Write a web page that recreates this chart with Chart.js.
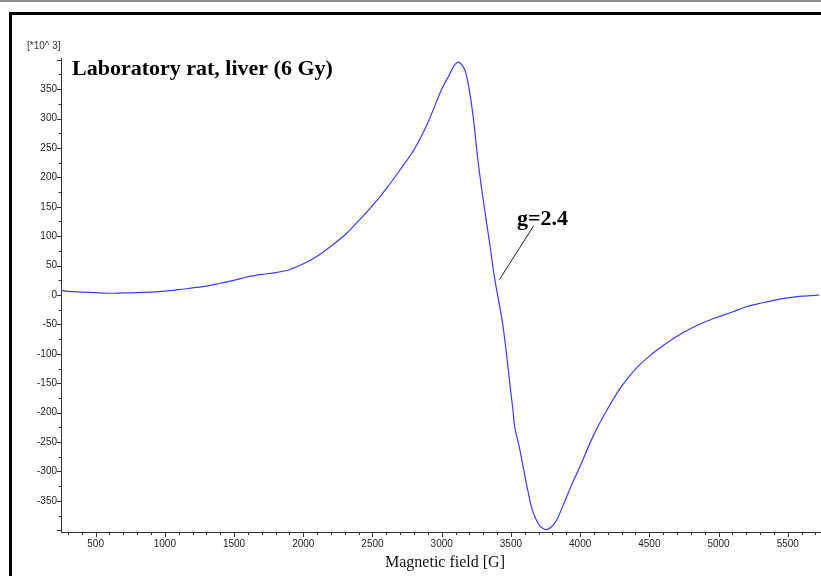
<!DOCTYPE html>
<html>
<head>
<meta charset="utf-8">
<script src="https://cdn.jsdelivr.net/npm/chart.js@4.4.1/dist/chart.umd.min.js"></script>
<style>
html,body{margin:0;padding:0;background:#fff;overflow:hidden;}
#c{position:absolute;left:0;top:0;}
</style>
</head>
<body>
<canvas id="c" width="821" height="576"></canvas>
<script>
// Magnetic field [G]
const fieldG = [250,300,400,500,600,700,800,900,1000,1100,1200,1300,1400,1500,1600,1650,1700,1800,1900,2000,2100,2200,2300,2400,2500,2600,2700,2800,2900,3000,3050,3080,3100,3115,3130,3150,3170,3200,3230,3260,3290,3320,3350,3380,3410,3440,3470,3500,3515,3527,3560,3590,3620,3650,3680,3710,3740,3760,3790,3830,3880,3940,4000,4100,4200,4300,4400,4500,4600,4700,4800,4900,5000,5100,5200,5300,5400,5500,5600,5700,5728];
// Signal [*10^3]
const signal = [8,6,5,4,3,3.5,4,5,6.5,9,12,15,20,25,31,33,35,38,43,53,66,83,102,126,152,181,213,247,293,350,372,386,393,396,395,390,381,348,298,233,178,130,82,32,-8,-48,-104,-167,-196,-224,-258,-294,-330,-362,-381,-393,-398,-399,-395,-383,-356,-322,-291,-237,-193,-155,-126,-104,-86,-70,-57,-46,-37,-29,-20,-14,-9,-5,-2,-0.5,0];

const xTickValues = [500,1000,1500,2000,2500,3000,3500,4000,4500,5000,5500];
const yTickValues = [-350,-300,-250,-200,-150,-100,-50,0,50,100,150,200,250,300,350];
const xMinorStep = 100;
const yMinorStep = 25;

const titleText = 'Laboratory rat, liver (6 Gy)';
const annotationText = 'g=2.4';
const xAxisTitle = 'Magnetic field [G]';
const yUnitText = '[*10^ 3]';

const points = fieldG.map((x, i) => ({x: x, y: signal[i]}));

const decor = {
  id: 'decor',
  beforeDraw(chart) {
    const ctx = chart.ctx;
    ctx.save();
    ctx.fillStyle = '#fff';
    ctx.fillRect(0, 0, chart.width, chart.height);
    ctx.fillStyle = '#8a8a8a';
    ctx.fillRect(0, 0, chart.width, 2);
    ctx.fillStyle = '#000';
    ctx.fillRect(9, 12, chart.width - 9, 3);
    ctx.fillRect(9, 12, 3, chart.height - 12);
    ctx.restore();
  },
  afterDraw(chart) {
    const ctx = chart.ctx;
    const xs = chart.scales.x, ys = chart.scales.y;
    const area = chart.chartArea;
    ctx.save();
    ctx.strokeStyle = '#333';
    ctx.lineWidth = 1;
    ctx.beginPath();
    const yStart = Math.ceil(ys.min / yMinorStep) * yMinorStep;
    for (let v = yStart; v <= ys.max; v += yMinorStep) {
      const py = Math.round(ys.getPixelForValue(v)) + 0.5;
      const len = (v % 50 === 0) ? 4 : 2.5;
      ctx.moveTo(area.left - len, py);
      ctx.lineTo(area.left, py);
    }
    const xStart = Math.ceil(xs.min / xMinorStep) * xMinorStep;
    for (let v = xStart; v <= xs.max; v += xMinorStep) {
      const px = Math.round(xs.getPixelForValue(v)) + 0.5;
      const len = (v % 500 === 0) ? 5 : 3;
      ctx.moveTo(px, area.bottom);
      ctx.lineTo(px, area.bottom + len);
    }
    ctx.stroke();

    ctx.strokeStyle = '#222';
    ctx.beginPath();
    ctx.moveTo(533.5, 226);
    ctx.lineTo(499.5, 279.5);
    ctx.stroke();

    ctx.fillStyle = '#000';
    ctx.textBaseline = 'alphabetic';
    ctx.font = 'bold 22px "Liberation Serif", "Times New Roman", serif';
    ctx.textAlign = 'left';
    ctx.fillText(titleText, 72, 75);
    ctx.fillText(annotationText, 517, 225);

    ctx.font = '16px "Liberation Serif", "Times New Roman", serif';
    ctx.textAlign = 'center';
    ctx.fillStyle = '#111';
    ctx.fillText(xAxisTitle, 445, 567);

    ctx.font = '10px "Liberation Sans", Arial, sans-serif';
    ctx.textAlign = 'left';
    ctx.fillStyle = '#333';
    ctx.fillText(yUnitText, 27, 49);
    ctx.restore();
  }
};

new Chart(document.getElementById('c'), {
  type: 'line',
  data: {
    datasets: [{
      data: points,
      borderColor: '#3b3bff',
      borderWidth: 1.2,
      pointRadius: 0,
      tension: 0.3,
      fill: false
    }]
  },
  options: {
    responsive: false,
    animation: false,
    devicePixelRatio: 1,
    layout: {padding: {left: 0, top: 58, right: 0, bottom: 0}},
    plugins: {legend: {display: false}, tooltip: {enabled: false}, title: {display: false}},
    scales: {
      x: {
        type: 'linear',
        min: 250,
        max: 5740,
        afterBuildTicks: s => { s.ticks = xTickValues.map(v => ({value: v})); },
        afterFit: s => { s.height = 44; },
        grid: {display: false, drawTicks: false},
        border: {display: true, color: '#333', width: 1},
        ticks: {
          padding: 6,
          maxRotation: 0,
          autoSkip: false,
          color: '#222',
          font: {family: '"Liberation Sans", Arial, sans-serif', size: 10},
          callback: v => String(v)
        }
      },
      y: {
        type: 'linear',
        min: -403,
        max: 403,
        afterBuildTicks: s => { s.ticks = yTickValues.map(v => ({value: v})); },
        afterFit: s => { s.width = 61; },
        grid: {display: false, drawTicks: false},
        border: {display: true, color: '#333', width: 1},
        ticks: {
          padding: 4,
          autoSkip: false,
          color: '#222',
          font: {family: '"Liberation Sans", Arial, sans-serif', size: 10},
          callback: v => String(v)
        }
      }
    }
  },
  plugins: [decor]
});
</script>
</body>
</html>
